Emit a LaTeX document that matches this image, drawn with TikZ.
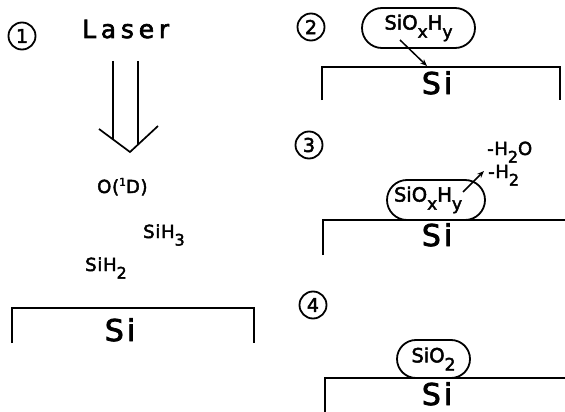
\documentclass[tikz,border=0pt]{standalone}
\usepackage{fontspec}
\setmainfont{DejaVu Sans}[FakeBold=2.5]
\usetikzlibrary{arrows.meta,shapes.misc}
\newcommand{\lsub}[1]{\raisebox{-0.42em}{\scalebox{0.88}{#1}}}
\newcommand{\lsup}[1]{\raisebox{0.4em}{\scalebox{0.6}{#1}}}
\tikzset{
  numcirc/.style={circle,draw,line width=1.8pt,inner sep=0pt,minimum size=27pt,font=\fontsize{19}{19}\selectfont},
  substrate/.style={line width=2.2pt},
  sitext/.style={font=\addfontfeatures{LetterSpace=10}\fontsize{30}{30}\selectfont,inner sep=0pt},
  pill/.style={rounded rectangle,draw,line width=1.8pt,inner sep=0pt,font=\fontsize{19.5}{19.5}\selectfont},
  chem/.style={font=\addfontfeatures{LetterSpace=4}\fontsize{18}{18}\selectfont,inner sep=0pt},
  smallarrow/.style={line width=1.5pt,-{Stealth[length=7pt,width=5.5pt]}},
  beam/.style={line width=1.7pt}
}
\begin{document}
\begin{tikzpicture}[x=1pt,y=-1pt]
\useasboundingbox (0,0) rectangle (565,412);
% ---------- panel 1
\node[numcirc] (n1) at (22,36) {1};
\node[font=\addfontfeatures{LetterSpace=19}\fontsize{25}{25}\selectfont,inner sep=0pt,anchor=base west] (laser) at (82,38) {Laser};
\draw[beam] (99,129) -- (130,152) -- (158,126);
\draw[beam] (113,61) -- (113,139.5);
\draw[beam] (138,61) -- (138,144.5);
\node[chem,anchor=base west] (o1d) at (97,193) {O(\lsup{1}D)};
\node[chem,anchor=base west] (sih3) at (143,238) {SiH\lsub{3}};
\node[chem,anchor=base west] (sih2) at (85,271) {SiH\lsub{2}};
\draw[substrate] (12,343) -- (12,308) -- (254,308) -- (254,343);
\node[sitext,anchor=base] (si1) at (120,341) {Si};
% ---------- panel 2
\node[numcirc] (n2) at (311,27) {2};
\node[pill,minimum width=113pt,minimum height=40pt] (p2) at (418.5,28) {SiO\lsub{x}H\lsub{y}};
\draw[substrate] (322,100) -- (322,67) -- (560,67) -- (560,100);
\node[sitext,anchor=base] (si2) at (437,94) {Si};
\coordinate (a2s) at (400,40);
\coordinate (a2e) at (427,66);
\draw[smallarrow] (a2s) -- (a2e);
% ---------- panel 3
\node[numcirc] (n3) at (309,145) {3};
\node[chem,anchor=base west] (h2o) at (487,155) {-H\lsub{2}O};
\node[chem,anchor=base west] (h2) at (488,178) {-H\lsub{2}};
\node[pill,minimum width=98pt,minimum height=40pt,text width=84pt,align=left] (p3) at (436,200) {SiO\lsub{x}H\lsub{y}};
\draw[substrate] (323,255) -- (323,220) -- (566,220);
\node[sitext,anchor=base] (si3) at (437,246) {Si};
\coordinate (a3s) at (463,192);
\coordinate (a3e) at (484,171);
\draw[smallarrow] (a3s) -- (a3e);
% ---------- panel 4
\node[numcirc] (n4) at (313,305) {4};
\node[pill,minimum width=73pt,minimum height=38pt] (p4) at (433.5,359) {SiO\lsub{2}};
\draw[substrate] (325,413) -- (325,378) -- (566,378);
\node[sitext,anchor=base] (si4) at (437,405) {Si};
\end{tikzpicture}
\end{document}
